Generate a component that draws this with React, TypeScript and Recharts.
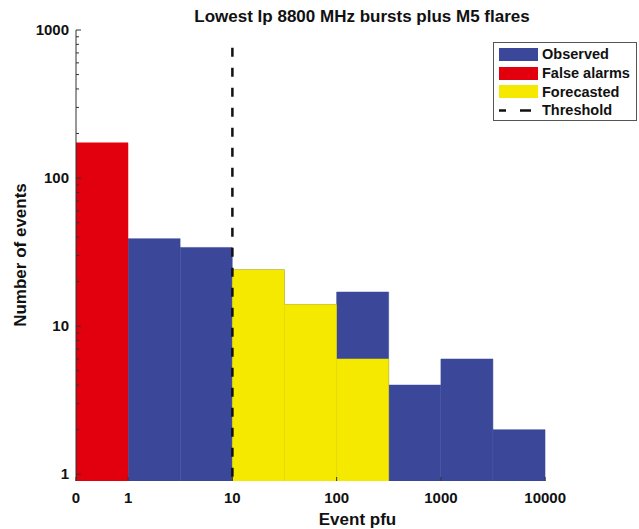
import React from 'react';
import { ComposedChart, Bar, XAxis, YAxis, ReferenceLine, Legend, Label } from 'recharts';

// half-decade bins of event pfu: bin i spans [i, i+1] on the x axis
const binIndex = [0, 1, 2, 3, 4, 5, 6, 7, 8, 9];
const observed = [null, 39, 34, 24, 14, 17, 4, 6, 2, null];
const falseAlarms = [173, null, null, null, null, null, null, null, null, null];
const forecasted = [null, null, null, 24, 14, 6, null, null, null, null];

const xTicks = [0, 1, 3, 5, 7, 9];
const xTickLabels = ['0', '1', '10', '100', '1000', '10000'];
const yMajorTicks = [1, 10, 100, 1000];
const yMinorTicks = [2, 3, 4, 5, 6, 7, 8, 9, 20, 30, 40, 50, 60, 70, 80, 90, 200, 300, 400, 500, 600, 700, 800, 900];
const thresholdBin = 3;
const thresholdTop = 760;

const BLUE = '#3b4799';
const RED = '#e3000e';
const YELLOW = '#f5e900';
const FONT = '"Liberation Sans", Arial, Helvetica, sans-serif';

const CHART_W = 639;
const CHART_H = 529;
const X_AXIS_H = 48;
const AXIS_Y = CHART_H - X_AXIS_H;

const data = binIndex.map((b, i) => ({
  center: b + 0.5,
  observed: observed[i],
  falseAlarms: falseAlarms[i],
  forecasted: forecasted[i],
}));

const yTicks = [...yMajorTicks, ...yMinorTicks].sort((a, b) => a - b);

function YTick(props: any) {
  const x = Number(props.x);
  const y = Number(props.y);
  const v = props.payload.value;
  const major = yMajorTicks.includes(v);
  return (
    <g>
      <line x1={x} x2={x + (major ? 5 : 3)} y1={y} y2={y} stroke="#333" strokeWidth={1} />
      {major && (
        <text x={x - 7} y={y + 5} textAnchor="end" fontSize={15} fontWeight="bold" fill="#111" fontFamily={FONT}>
          {v}
        </text>
      )}
    </g>
  );
}

function XTick(props: any) {
  const x = Number(props.x);
  const idx = xTicks.indexOf(props.payload.value);
  return (
    <g>
      <line x1={x} x2={x} y1={AXIS_Y} y2={AXIS_Y - 4} stroke="#333" strokeWidth={1} />
      <text x={x} y={AXIS_Y + 22} textAnchor="middle" fontSize={15} fontWeight="bold" fill="#111" fontFamily={FONT}>
        {xTickLabels[idx]}
      </text>
    </g>
  );
}

const legendItems = [
  { label: 'Observed', color: BLUE },
  { label: 'False alarms', color: RED },
  { label: 'Forecasted', color: YELLOW },
  { label: 'Threshold', color: null },
];

function LegendBox() {
  return (
    <div
      style={{
        width: 144,
        height: 79,
        border: '1.5px solid #555',
        background: '#fff',
        fontFamily: FONT,
        fontWeight: 'bold',
        fontSize: 14.5,
        color: '#111',
        paddingTop: 2,
        boxSizing: 'border-box',
        textAlign: 'left',
      }}
    >
      {legendItems.map((it) => (
        <div key={it.label} style={{ display: 'flex', alignItems: 'center', height: 18.7 }}>
          {it.color ? (
            <div style={{ width: 39, height: 13, marginLeft: 5, background: it.color }} />
          ) : (
            <svg width={39} height={13} style={{ marginLeft: 5 }}>
              <line x1={0} x2={32} y1={6.5} y2={6.5} stroke="#111" strokeWidth={2.5} strokeDasharray="7 14 11" />
            </svg>
          )}
          <span style={{ marginLeft: 4, lineHeight: '18px' }}>{it.label}</span>
        </div>
      ))}
    </div>
  );
}

export default function App() {
  const xDomain = [0, 10.8];
  return (
    <div style={{ position: 'absolute', left: 0, top: 0, width: CHART_W, height: CHART_H, background: '#fff' }}>
      <div
        style={{
          position: 'absolute',
          left: 62,
          top: 7,
          width: 600,
          textAlign: 'center',
          fontFamily: FONT,
          fontWeight: 'bold',
          fontSize: 17,
          lineHeight: '20px',
          color: '#111',
          zIndex: 2,
        }}
      >
        Lowest Ip 8800 MHz bursts plus M5 flares
      </div>
      <div
        style={{
          position: 'absolute',
          left: 0,
          top: 510,
          width: CHART_W,
          paddingLeft: 76,
          boxSizing: 'border-box',
          textAlign: 'center',
          fontFamily: FONT,
          fontWeight: 'bold',
          fontSize: 17,
          lineHeight: '20px',
          color: '#111',
          zIndex: 2,
        }}
      >
        Event pfu
      </div>
      <ComposedChart
        width={CHART_W}
        height={CHART_H}
        data={data}
        margin={{ top: 30, right: 0, bottom: 0, left: 0 }}
        barCategoryGap={0}
        barGap={0}
      >
        <XAxis
          xAxisId="obs"
          dataKey="center"
          type="number"
          domain={xDomain}
          ticks={xTicks}
          interval={0}
          allowDataOverflow
          height={X_AXIS_H}
          tickSize={0}
          tickMargin={0}
          tick={<XTick />}
          axisLine={{ stroke: '#555', strokeWidth: 1.2 }}
        />
        <XAxis xAxisId="fa" dataKey="center" type="number" domain={xDomain} ticks={xTicks} allowDataOverflow hide />
        <XAxis xAxisId="fc" dataKey="center" type="number" domain={xDomain} ticks={xTicks} allowDataOverflow hide />
        <YAxis
          scale="log"
          type="number"
          domain={[0.9, 1000]}
          allowDataOverflow
          ticks={yTicks}
          interval={0}
          width={76}
          tickSize={0}
          tickMargin={0}
          tick={<YTick />}
          axisLine={{ stroke: '#333', strokeWidth: 1 }}
        >
          <Label
            content={() => (
              <text
                x={26}
                y={255}
                transform="rotate(-90 26 255)"
                textAnchor="middle"
                fontFamily={FONT}
                fontWeight="bold"
                fontSize={17}
                fill="#111"
              >
                Number of events
              </text>
            )}
          />
        </YAxis>
        <Legend
          layout="horizontal"
          verticalAlign="middle"
          align="center"
          content={() => <LegendBox />}
          wrapperStyle={{ position: 'absolute', left: 493, top: 42, width: 144 }}
        />
        <Bar xAxisId="obs" dataKey="observed" name="Observed" fill={BLUE} stroke={BLUE} strokeWidth={0.5} isAnimationActive={false} />
        <Bar xAxisId="fa" dataKey="falseAlarms" name="False alarms" fill={RED} stroke={RED} strokeWidth={0.5} isAnimationActive={false} />
        <Bar xAxisId="fc" dataKey="forecasted" name="Forecasted" fill={YELLOW} stroke={YELLOW} strokeWidth={0.5} isAnimationActive={false} />
        <ReferenceLine
          xAxisId="obs"
          segment={[
            { x: thresholdBin, y: thresholdTop },
            { x: thresholdBin, y: 0.9 },
          ]}
          stroke="#111"
          strokeWidth={2.5}
          strokeDasharray="9 11"
        />
      </ComposedChart>
    </div>
  );
}
